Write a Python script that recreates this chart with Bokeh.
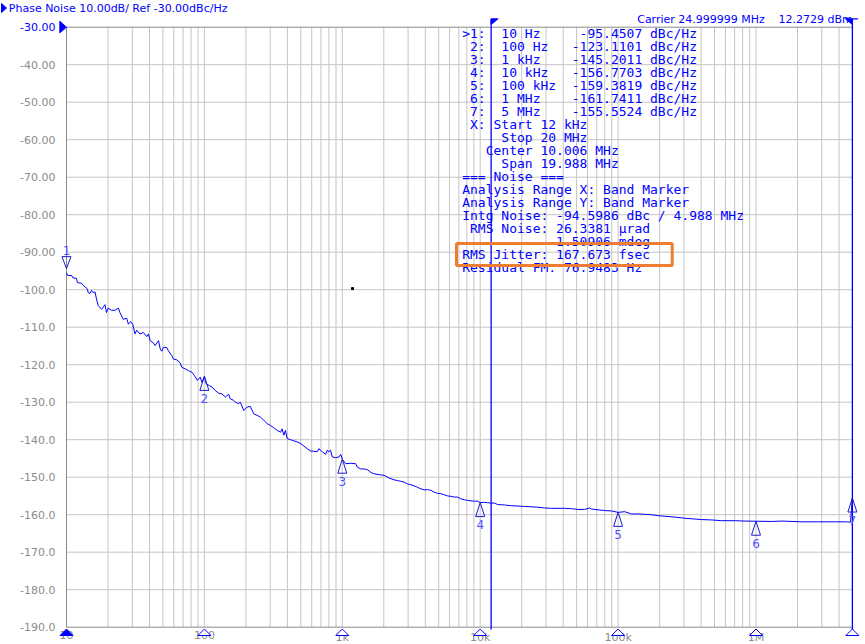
from bokeh.plotting import figure
from bokeh.models import Range1d
from bokeh.core.properties import value
from bokeh.embed import file_html
from bokeh.resources import INLINE

# ---------------- data ----------------
freq_d1 = [10, 10.2, 10.9, 11.1, 11.8, 12.0, 12.9, 13.2, 14.1, 14.4, 14.8, 15.2, 15.6, 16.1,
           16.5, 17.0, 18.0, 19.0, 19.5, 20.1, 21.2, 22.5, 23.8, 24.4, 25.8, 27.3, 28.1, 29.2,
           30.2, 31.4, 32.3, 34.1, 36.1, 38.2, 39.3, 40.4, 42.7, 43.9, 46.5, 47.8, 49.1, 50.5,
           53.3, 54.8, 58.1, 59.7, 63.1, 66.7, 68.6, 72.6, 76.7, 81.1, 84.7, 89.1, 93.3, 95.9]
pn_d1 = [-95.45, -96.2, -96.2, -96.8, -97.0, -98.1, -98.3, -98.8, -99.7, -100.8, -101.0, -100.2,
         -100.8, -100.6, -102.5, -104.3, -105.2, -104.0, -106.1, -104.9, -105.5, -105.5, -104.9,
         -106.1, -107.9, -107.6, -109.2, -108.5, -109.2, -111.8, -110.8, -111.8, -111.4, -112.5,
         -111.8, -113.6, -114.2, -114.9, -113.6, -115.8, -116.4, -115.4, -115.4, -116.3, -117.6,
         -118.5, -118.7, -119.5, -120.7, -121.1, -121.6, -122.0, -122.9, -124.2, -123.3, -124.7]
freq_d2 = [100, 103, 109, 114, 120, 127, 134, 142, 150, 154, 163, 168, 177, 182, 193, 204, 215,
           228, 241, 255, 269, 285, 301, 318, 337, 357, 366, 377, 387, 398, 421, 445, 471, 498,
           526, 556, 589, 622, 658, 676, 716, 757, 778, 800, 822, 845, 895, 946, 973]
pn_d2 = [-123.11, -125.1, -125.6, -126.0, -126.9, -127.6, -127.8, -128.6, -127.9, -129.1, -129.5,
         -130.0, -130.4, -130.0, -132.2, -131.3, -131.1, -133.1, -133.5, -134.0, -134.8, -135.7,
         -136.2, -136.8, -137.5, -138.0, -137.1, -138.8, -137.5, -139.7, -140.0, -140.3, -140.6,
         -141.0, -141.7, -142.4, -143.0, -143.1, -143.2, -142.4, -143.2, -143.9, -142.8, -143.2,
         -142.8, -144.6, -144.8, -144.6, -143.9]
freq_d3 = [1000, 1057, 1151, 1250, 1285, 1358, 1439, 1521, 1607, 1698, 1901, 2009, 2183, 2377,
           2512, 2655, 2805, 2972, 3141, 3319, 3508, 3715, 3926, 4150, 4385, 4645, 4909, 5188,
           5483, 5808, 6138, 6486, 6855, 7261, 7674, 8110, 8570, 9078, 9594]
pn_d3 = [-145.2, -146.4, -146.3, -146.4, -147.3, -147.8, -147.8, -148.0, -148.7, -149.1, -149.4,
         -149.5, -150.2, -150.7, -150.9, -151.1, -151.3, -151.8, -152.0, -152.3, -152.7, -153.1,
         -153.4, -153.3, -153.5, -154.0, -154.3, -154.4, -154.7, -155.0, -155.1, -155.3, -155.3,
         -155.8, -156.0, -156.2, -156.3, -156.4, -156.4]
freq_d4 = [10000, 10720, 11350, 11990, 12680, 13400, 15000, 16750, 18750, 20940, 23440, 26180,
           29310, 32730, 36640, 40930, 45810, 51170, 57280, 62230, 63970, 71610, 79980, 89540]
pn_d4 = [-156.77, -156.7, -156.8, -156.9, -156.9, -157.3, -157.4, -157.6, -157.7, -157.8, -157.9,
         -158.0, -158.2, -158.3, -158.3, -158.3, -158.4, -158.6, -158.6, -158.2, -158.5, -158.7,
         -158.9, -159.0]
freq_d5 = [100000, 111700, 125000, 139600, 156300, 173000, 199500, 251200, 316200, 403600,
           477500, 564900, 706300, 835600]
pn_d5 = [-159.38, -159.2, -159.8, -159.8, -159.9, -160.0, -160.3, -160.6, -161.0, -161.3, -161.4,
         -161.6, -161.6, -161.7]
freq_d6 = [1000000, 1303000, 1542000, 2153000, 2851000, 3767000, 4446000, 4842000, 5000000]
pn_d6 = [-161.74, -161.8, -161.7, -161.9, -161.9, -161.9, -161.9, -162.0, -155.55]

freq_hz = freq_d1 + freq_d2 + freq_d3 + freq_d4 + freq_d5 + freq_d6
pn_dbc = pn_d1 + pn_d2 + pn_d3 + pn_d4 + pn_d5 + pn_d6

marker_freq = [10, 100, 1000, 10000, 100000, 1000000, 5000000]
marker_dbc = [-95.4507, -123.1101, -145.2011, -156.7703, -159.3819, -161.7411, -155.5524]
marker_freq_text = ["10 Hz", "100 Hz", "1 kHz", "10 kHz", "100 kHz", "1 MHz", "5 MHz"]

band_start_hz = 12000
sweep_stop_hz = 5000000
stray_dot_hz = [1186]
stray_dot_dbc = [-99.7]

y_ticks = [-30, -40, -50, -60, -70, -80, -90, -100, -110, -120, -130, -140, -150, -160, -170,
           -180, -190]
y_tick_labels = ["-30.00", "-40.00", "-50.00", "-60.00", "-70.00", "-80.00", "-90.00", "-100.0",
                 "-110.0", "-120.0", "-130.0", "-140.0", "-150.0", "-160.0", "-170.0", "-180.0",
                 "-190.0"]
x_ticks = [10, 100, 1000, 10000, 100000, 1000000]
x_tick_labels = ["10", "100", "1k", "10k", "100k", "1M"]

title_text = "Phase Noise 10.00dB/ Ref -30.00dBc/Hz"
carrier_text = "Carrier 24.999999 MHz"
carrier_power_text = "12.2729 dBm"
info_lines = [
    " X: Start 12 kHz",
    "     Stop 20 MHz",
    "   Center 10.006 MHz",
    "     Span 19.988 MHz",
    "=== Noise ===",
    "Analysis Range X: Band Marker",
    "Analysis Range Y: Band Marker",
    "Intg Noise: -94.5986 dBc / 4.988 MHz",
    " RMS Noise: 26.3381 \u00b5rad",
    "            1.50906 mdeg",
    "RMS Jitter: 167.673 fsec",
    "Residual FM: 76.9483 Hz",
]

# ---------------- layout constants (canvas pixels) ----------------
X10 = 66.0      # x of 10 Hz
PPD = 137.9     # px per decade
Y30 = 26.7      # y of -30 dBc/Hz
PXDB = 3.75     # px per dB
W, H = 865, 644
TXT_DY = -4.0   # baseline correction for text rows


def hz_at(px):
    return 10.0 * 10 ** ((px - X10) / PPD)


def db_at(py):
    return -30.0 - (py - Y30) / PXDB


BLUE = "#0000ff"
GRID = "#c4c4c4"
BORDER = "#8a8a8a"
LABEL_GRAY = "#8c8c8c"
SANS = value("DejaVu Sans")

p = figure(width=W, height=H, x_axis_type="log", title=None,
           x_range=Range1d(hz_at(0), hz_at(W)), y_range=Range1d(db_at(H), db_at(0)),
           min_border=0, min_border_left=0, min_border_right=0, min_border_top=0,
           min_border_bottom=0, output_backend="svg", toolbar_location=None,
           outline_line_color=None, background_fill_color="white", border_fill_color="white")
p.grid.visible = False
p.axis.visible = False

x_lo, x_hi = marker_freq[0], sweep_stop_hz
y_top, y_bot = y_ticks[0], y_ticks[-1]

# grid
vg = [m * 10 ** k for k in range(1, 7) for m in range(1, 10)]
vg = [f for f in vg if x_lo < f < x_hi]
p.segment(x0=vg, x1=vg, y0=[y_bot] * len(vg), y1=[y_top] * len(vg), line_color=GRID, line_width=1)
hg = y_ticks[1:-1]
p.segment(x0=[x_lo] * len(hg), x1=[x_hi] * len(hg), y0=hg, y1=hg, line_color=GRID, line_width=1)
# borders
p.segment(x0=[x_lo, x_lo, x_lo], x1=[x_hi, x_hi, x_lo], y0=[y_top, y_bot, y_top],
          y1=[y_top, y_bot, y_bot], line_color=BORDER, line_width=1)

# tick labels (through the scales)
p.text(x=[hz_at(55)] * len(y_ticks), y=y_ticks, text=y_tick_labels, text_align="right",
       text_baseline="middle", text_font=SANS, text_font_size="11px",
       text_color=[BLUE] + [LABEL_GRAY] * (len(y_ticks) - 1))
p.text(x=x_ticks, y=[db_at(630.5)] * len(x_ticks), text=x_tick_labels, text_align="center",
       text_baseline="top", text_font=SANS, text_font_size="11px", text_color=LABEL_GRAY)

# band marker lines and flags
p.segment(x0=[band_start_hz, sweep_stop_hz], x1=[band_start_hz, sweep_stop_hz],
          y0=[db_at(18.3)] * 2, y1=[db_at(629)] * 2, line_color=BLUE, line_width=1.3)
p.patches(xs=[[band_start_hz, band_start_hz * 10 ** (7 / PPD), band_start_hz],
              [sweep_stop_hz / 10 ** (7 / PPD), sweep_stop_hz, sweep_stop_hz]],
          ys=[[db_at(18.3), db_at(18.3), db_at(24)], [db_at(18.3), db_at(18.3), db_at(24)]],
          fill_color=BLUE, line_color=BLUE)
p.segment(x0=[sweep_stop_hz], x1=[sweep_stop_hz * 10 ** (5.5 / PPD)], y0=[db_at(18.3)],
          y1=[db_at(18.3)], line_color=BLUE, line_width=1.3)

# reference level arrow
p.patch(x=[hz_at(59.3), hz_at(59.3), x_lo], y=[db_at(20.7), db_at(32.3), y_top],
        fill_color=BLUE, line_color=BLUE)

# trace
p.line(freq_hz, pn_dbc, line_color=BLUE, line_width=1)
p.scatter(stray_dot_hz, stray_dot_dbc, marker="square", size=2, color="black")

# markers on trace
hw = 10 ** (4.5 / PPD)
tri_xs, tri_ys, lab_x, lab_y, lab_t = [], [], [], [], []
for i, (f, v) in enumerate(zip(marker_freq, marker_dbc)):
    if i == 0:
        tip = v + 4 / PXDB
        base = tip + 12 / PXDB
        ly = base + 6 / PXDB
    else:
        tip = v
        base = v - 14 / PXDB
        ly = v - 22 / PXDB
    tri_xs.append([f / hw, f * hw, f])
    tri_ys.append([base, base, tip])
    lab_x.append(f)
    lab_y.append(ly)
    lab_t.append(str(i + 1))
p.patches(tri_xs, tri_ys, fill_color="white", fill_alpha=0.0, line_color="#1a1ad0", line_width=1)
p.text(lab_x, lab_y, text=lab_t, text_align="center", text_baseline="middle",
       text_font=SANS, text_font_size="12px", text_color="#5050ff")

# stimulus markers on the x axis
bw = 10 ** (6.5 / PPD)
sx = [[f / bw, f * bw, f] for f in marker_freq]
sy = [[db_at(635), db_at(635), db_at(628.5)] for f in marker_freq]
p.patches(sx, sy, fill_color=[BLUE] + ["white"] * (len(marker_freq) - 1), line_color=BLUE,
          line_width=1)

# info block (non-breaking spaces keep the monospaced columns)
marker_lines = []
for i, (t, v) in enumerate(zip(marker_freq_text, marker_dbc)):
    marker_lines.append("%s%d:  %-9s%9.4f dBc/Hz" % (">" if i == 0 else " ", i + 1, t, v))
lines = [s.replace(" ", "\u00a0") for s in marker_lines + info_lines]
tx = [hz_at(461.7)] * len(lines)
ty = [db_at(37.3 + TXT_DY + 13 * i) for i in range(len(lines))]
p.text(tx, ty, text=lines, text_align="left", text_baseline="alphabetic",
       text_font=value("DejaVu Sans Mono"), text_font_size="13px", text_color=BLUE)

# highlight box
p.quad(left=[hz_at(456)], right=[hz_at(671.7)], top=[db_at(243)], bottom=[db_at(265)],
       fill_color=None, line_color="#ED7D31", line_width=3)

# header
p.patch(x=[hz_at(1), hz_at(1), hz_at(6)], y=[db_at(3), db_at(12), db_at(7.5)],
        fill_color=BLUE, line_color=BLUE)
p.text(x=[hz_at(8.3), hz_at(636.7), hz_at(778)],
       y=[db_at(11.7 + TXT_DY), db_at(23.3 + TXT_DY), db_at(23.3 + TXT_DY)],
       text=[title_text, carrier_text, carrier_power_text], text_align="left",
       text_baseline="alphabetic", text_font=SANS, text_font_size="11px", text_color=BLUE)

open("out.html", "w").write(file_html(p, INLINE))
